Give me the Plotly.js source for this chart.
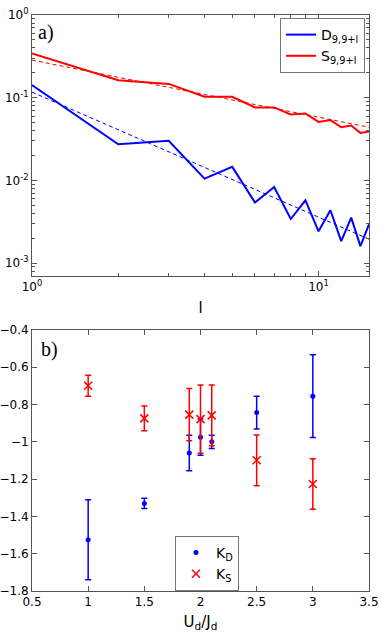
<!DOCTYPE html>
<html>
<head>
<meta charset="utf-8">
<script src="https://cdn.plot.ly/plotly-3.0.1.min.js"></script>
<style>html,body{margin:0;padding:0;background:#fff;}#chart{width:382px;height:632px;}</style>
</head>
<body>
<div id="chart"></div>
<script>
// ---- Panel a) data ----
const l = [1, 2, 3, 4, 5, 6, 7, 8, 9, 10, 11, 12, 13, 14, 15];
const D = [0.142, 0.0274, 0.0301, 0.01054, 0.0146, 0.0054, 0.00835, 0.00342, 0.00576, 0.00243, 0.00436, 0.00185, 0.00355, 0.00161, 0.00295];
const S = [0.344, 0.163, 0.147, 0.1026, 0.1026, 0.0763, 0.0763, 0.0628, 0.0645, 0.051, 0.0536, 0.044, 0.0462, 0.0376, 0.039];
const fitL = [1, 15];
const Dfit = [0.117, 0.00195];
const Sfit = [0.285, 0.044];

// ---- Panel b) data ----
const U = [1, 1.5, 1.9, 2, 2.1, 2.5, 3];
const KD = [-1.525, -1.33, -1.06, -0.975, -1.0, -0.843, -0.755];
const KDerr = [0.215, 0.027, 0.095, 0.097, 0.035, 0.088, 0.222];
const KS = [-0.699, -0.874, -0.854, -0.878, -0.858, -1.099, -1.226];
const KSerr = [0.056, 0.066, 0.14, 0.183, 0.163, 0.136, 0.136];

const topXTicks = [1, 10];
const topXText = ['10<sup>0</sup>', '10<sup>1</sup>'];
const topYTicks = [1, 0.1, 0.01, 0.001];
const topYText = ['10<sup>0</sup>', '10<sup>-1</sup>', '10<sup>-2</sup>', '10<sup>-3</sup>'];

const BLUE = 'rgb(0,0,255)';
const RED = 'rgb(255,0,0)';

const minorX = [];
for (let k = 2; k <= 9; k++) minorX.push(k);
const minorY = [];
for (let e = -4; e <= -1; e++) for (let k = 2; k <= 9; k++) {
  const v = k * Math.pow(10, e);
  if (v >= 0.0007) minorY.push(v);
}

const traces = [
  {x: l, y: D, type: 'scatter', mode: 'lines', name: 'D<sub>9,9+l</sub>', line: {color: BLUE, width: 2}, xaxis: 'x', yaxis: 'y', legend: 'legend'},
  {x: l, y: S, type: 'scatter', mode: 'lines', name: 'S<sub>9,9+l</sub>', line: {color: RED, width: 2}, xaxis: 'x', yaxis: 'y', legend: 'legend'},
  {x: fitL, y: Dfit, type: 'scatter', mode: 'lines', showlegend: false, line: {color: BLUE, width: 1, dash: '4px,3px'}, xaxis: 'x', yaxis: 'y'},
  {x: fitL, y: Sfit, type: 'scatter', mode: 'lines', showlegend: false, line: {color: RED, width: 1, dash: '4px,3px'}, xaxis: 'x', yaxis: 'y'},
  {x: U, y: KD, type: 'scatter', mode: 'markers', name: 'K<sub>D</sub>', marker: {color: BLUE, size: 5, symbol: 'circle'},
   error_y: {type: 'data', array: KDerr, visible: true, color: BLUE, thickness: 1.5, width: 3}, xaxis: 'x2', yaxis: 'y2', legend: 'legend2'},
  {x: U, y: KS, type: 'scatter', mode: 'markers', name: 'K<sub>S</sub>', marker: {color: RED, size: 8, symbol: 'x-thin-open', line: {color: RED, width: 1.5}},
   error_y: {type: 'data', array: KSerr, visible: true, color: RED, thickness: 1.5, width: 3}, xaxis: 'x2', yaxis: 'y2', legend: 'legend2'}
];

const FONT = 'DejaVu Sans, Liberation Sans, Arial, sans-serif';
const axBase = {
  showline: true, linecolor: '#555', linewidth: 1, mirror: 'ticks', ticks: 'inside', ticklen: 5,
  tickcolor: '#555', tickwidth: 1, showgrid: false, zeroline: false, automargin: false,
  tickfont: {family: FONT, size: 12, color: '#000'}
};

const W = 382, H = 632;
const px = v => v / W, py = v => 1 - v / H;

const layout = {
  width: W, height: H,
  margin: {l: 0, r: 0, t: 0, b: 0},
  paper_bgcolor: '#fff', plot_bgcolor: '#fff',
  font: {family: FONT, size: 12, color: '#000'},
  xaxis: Object.assign({}, axBase, {
    type: 'log', domain: [px(32), px(369)], range: [0, Math.log10(15)], anchor: 'y',
    tickmode: 'array', tickvals: topXTicks, ticktext: topXText,
    minor: {tickmode: 'array', tickvals: minorX, ticks: 'inside', ticklen: 3, tickcolor: '#555', showgrid: false},
    title: {text: 'l', font: {family: FONT, size: 15}, standoff: 9}
  }),
  yaxis: Object.assign({}, axBase, {
    type: 'log', domain: [py(276), py(15)], range: [Math.log10(0.0007), 0], anchor: 'x',
    tickmode: 'array', tickvals: topYTicks, ticktext: topYText,
    minor: {tickmode: 'array', tickvals: minorY, ticks: 'inside', ticklen: 3, tickcolor: '#555', showgrid: false}
  }),
  xaxis2: Object.assign({}, axBase, {
    domain: [px(32), px(369)], range: [0.5, 3.5], anchor: 'y2', dtick: 0.5, tick0: 0.5,
    title: {text: 'U<sub>d</sub>/J<sub>d</sub>', font: {family: FONT, size: 15}, standoff: 9}
  }),
  yaxis2: Object.assign({}, axBase, {
    domain: [py(591), py(330)], range: [-1.8, -0.4], anchor: 'x2', dtick: 0.2, tick0: -1.8
  }),
  legend: {
    x: px(365), xanchor: 'right', y: py(18), yanchor: 'top',
    bgcolor: '#fff', bordercolor: '#777', borderwidth: 1,
    font: {family: FONT, size: 14}, itemwidth: 30, tracegroupgap: 0
  },
  legend2: {
    x: px(175), xanchor: 'left', y: py(536), yanchor: 'top',
    bgcolor: '#fff', bordercolor: '#777', borderwidth: 1,
    font: {family: FONT, size: 14}, itemwidth: 30, tracegroupgap: 0
  },
  annotations: [
    {text: 'a)', xref: 'paper', yref: 'paper', x: px(36), y: py(32), xanchor: 'left', yanchor: 'middle', showarrow: false,
     font: {family: 'Liberation Serif, Times New Roman, serif', size: 20, color: '#000'}},
    {text: 'b)', xref: 'paper', yref: 'paper', x: px(39), y: py(350), xanchor: 'left', yanchor: 'middle', showarrow: false,
     font: {family: 'Liberation Serif, Times New Roman, serif', size: 20, color: '#000'}}
  ],
  showlegend: true
};

Plotly.newPlot('chart', traces, layout, {staticPlot: true, displayModeBar: false});
</script>
</body>
</html>
